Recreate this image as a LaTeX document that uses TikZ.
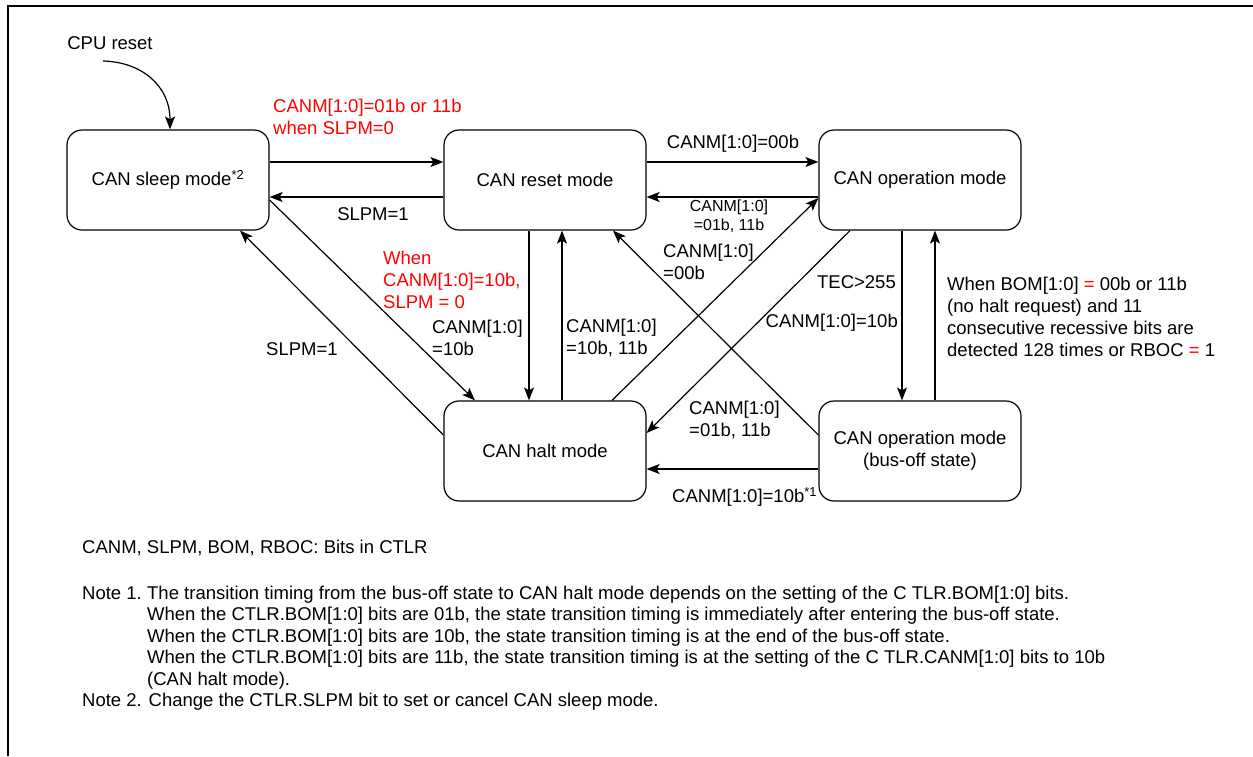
\documentclass[tikz,border=0pt]{standalone}
\usepackage{fontspec}
\setmainfont{Liberation Sans}
\usetikzlibrary{arrows.meta}
\definecolor{condred}{RGB}{255,0,0}
\newcommand{\lblfont}{\fontsize{18.5}{22}\selectfont}
\newcommand{\smlfont}{\fontsize{16}{19}\selectfont}
\newcommand{\notefont}{\fontsize{18.5}{21.5}\selectfont}
\begin{document}
\begin{tikzpicture}[x=1pt,y=-1pt,
  every node/.style={inner sep=0pt,font=\lblfont},
  mode/.style={draw,line width=1.2pt,rounded corners=15pt,minimum width=202pt,minimum height=100pt,align=center},
  trans/.style={draw,line width=1.2pt,-{Stealth[length=13pt,width=10pt,inset=3pt]}},
  cond/.style={text=condred,align=left}]
\useasboundingbox (0,0) rectangle (1253,756);
\draw [line width=2pt] (8,756) -- (8,6) -- (1253,6);
\node [mode] (sleep) at (168,180) {CAN sleep mode\textsuperscript{*2}};
\node [mode] (reset) at (545,180) {CAN reset mode};
\node [mode] (oper) at (920,180) {CAN operation mode};
\node [mode] (halt) at (545,451) {CAN halt mode};
\node [mode] (busoff) at (920,451) {CAN operation mode\\(bus-off state)};
\node (cpu) at (110,43) {CPU reset};
\coordinate (cpuend) at (103,61);
\draw [trans] (cpuend) .. controls (142,62) and (170,86) .. ([xshift=2pt]sleep.north);
\draw [trans] ([yshift=18pt]sleep.east) -- ([yshift=18pt]reset.west);
\node [cond,anchor=west] (lslprst) at (273,117) {CANM[1:0]=01b or 11b\\when SLPM=0};
\draw [trans] ([yshift=-17pt]reset.west) -- ([yshift=-17pt]sleep.east);
\node (lrstslp) at (373,214) {SLPM=1};
\draw [trans] ([yshift=18pt]reset.east) -- ([yshift=18pt]oper.west);
\node (lrstop) at (733,144) {CANM[1:0]=00b};
\draw [trans] ([yshift=-17pt]oper.west) -- ([yshift=-17pt]reset.east);
\node [font=\smlfont,align=center] (loprst) at (729,216) {CANM[1:0]\\=01b, 11b};
\draw [trans] ([xshift=-16pt]reset.south) -- ([xshift=-16pt]halt.north);
\node [anchor=west,align=left] (lrsthlt) at (432,338) {CANM[1:0]\\=10b};
\draw [trans] ([xshift=17pt]halt.north) -- ([xshift=17pt]reset.south);
\node [anchor=west,align=left] (lhltrst) at (566,338) {CANM[1:0]\\=10b, 11b};
\draw [trans] ([yshift=-20pt]sleep.east) -- ([xshift=-70pt]halt.north);
\node [cond,anchor=west] (lslphlt) at (383,280) {When\\CANM[1:0]=10b,\\SLPM = 0};
\draw [trans] ([yshift=16pt]halt.west) -- ([xshift=72pt]sleep.south);
\node [anchor=west] (lhltslp) at (266,349) {SLPM=1};
\draw [trans] ([xshift=67pt]halt.north) -- ([yshift=-18pt]oper.west);
\node [anchor=west,align=left] (lhltop) at (663,262) {CANM[1:0]\\=00b};
\draw [trans] ([yshift=16pt]busoff.west) -- ([xshift=68pt]reset.south);
\node [anchor=west,align=left] (lbusrst) at (689,420) {CANM[1:0]\\=01b, 11b};
\draw [trans] ([xshift=-70pt]oper.south) -- ([yshift=18pt]halt.east);
\node [anchor=east] (lophlt) at (898,323) {CANM[1:0]=10b};
\draw [trans] ([xshift=-18pt]oper.south) -- ([xshift=-18pt]busoff.north);
\node [anchor=east] (lopbus) at (896,282) {TEC\textgreater255};
\draw [trans] ([xshift=15pt]busoff.north) -- ([xshift=15pt]oper.south);
\node [anchor=west,align=left] (lbusop) at (947,317) {When BOM[1:0] {\color{condred}=} 00b or 11b\\(no halt request) and 11\\consecutive recessive bits are\\detected 128 times or RBOC {\color{condred}=} 1};
\draw [trans] ([yshift=-18pt]busoff.west) -- ([yshift=-18pt]halt.east);
\node [anchor=west] (lbushlt) at (672,497) {CANM[1:0]=10b\textsuperscript{*1}};
\node [anchor=west] (bits) at (82,548) {CANM, SLPM, BOM, RBOC: Bits in CTLR};
\node [anchor=base west,font=\notefont] (notes) at (82,599) {\begin{tabular}[t]{@{}p{65pt}@{}l@{}}
Note 1. & The transition timing from the bus-off state to CAN halt mode depends on the setting of the C TLR.BOM[1:0] bits.\\
 & When the CTLR.BOM[1:0] bits are 01b, the state transition timing is immediately after entering the bus-off state.\\
 & When the CTLR.BOM[1:0] bits are 10b, the state transition timing is at the end of the bus-off state.\\
 & When the CTLR.BOM[1:0] bits are 11b, the state transition timing is at the setting of the C TLR.CANM[1:0] bits to 10b\\
 & (CAN halt mode).\\
\multicolumn{2}{@{}l@{}}{Note 2. Change the CTLR.SLPM bit to set or cancel CAN sleep mode.}
\end{tabular}};
\end{tikzpicture}
\end{document}
